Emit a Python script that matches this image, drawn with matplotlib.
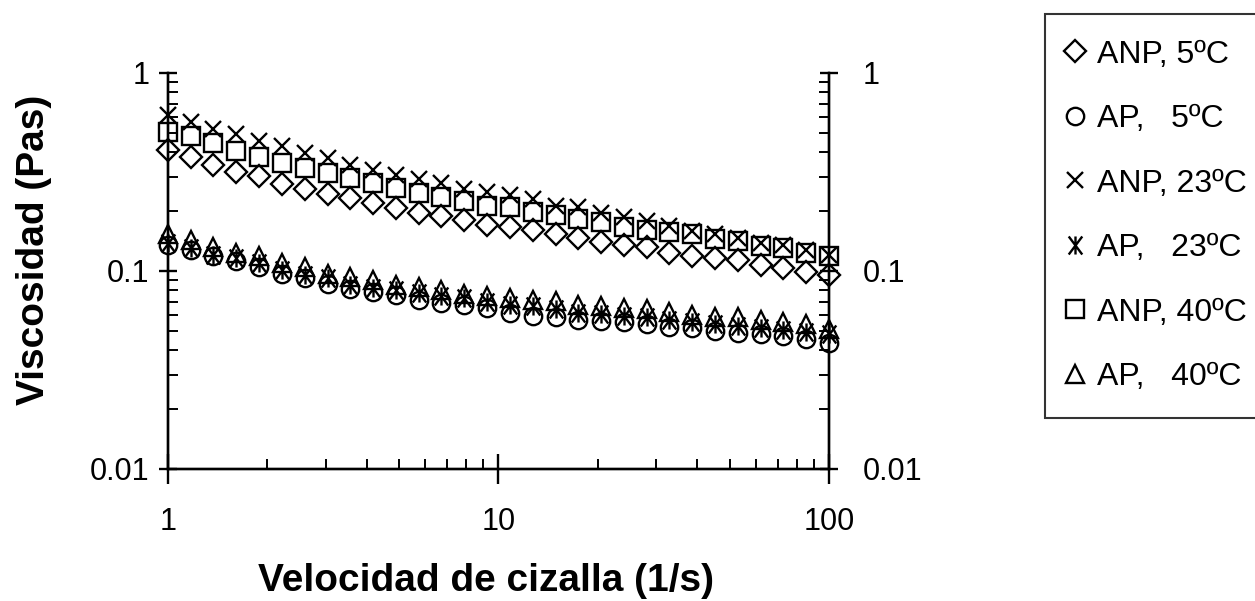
import numpy as np
import matplotlib
matplotlib.use('Agg')
import matplotlib.pyplot as plt
from matplotlib.path import Path
from matplotlib.ticker import FixedLocator, FixedFormatter, LogLocator, NullFormatter

plt.rcParams['font.family'] = ['Liberation Sans', 'DejaVu Sans']

# shear rate (1/s)
shear = [1.0, 1.17, 1.37, 1.61, 1.89, 2.21, 2.59, 3.04, 3.56, 4.18,
         4.89, 5.74, 6.72, 7.88, 9.24, 10.8, 12.7, 14.9, 17.4, 20.4,
         24.0, 28.1, 32.9, 38.6, 45.2, 53.0, 62.1, 72.8, 85.3, 100.0]

# viscosity (Pa s)
anp_5 = [0.409, 0.378, 0.345, 0.317, 0.302, 0.276, 0.260, 0.245, 0.233, 0.221,
         0.207, 0.196, 0.190, 0.180, 0.170, 0.166, 0.161, 0.153, 0.147, 0.140,
         0.136, 0.132, 0.124, 0.119, 0.116, 0.113, 0.107, 0.104, 0.099, 0.095]
ap_5 = [0.136, 0.128, 0.119, 0.112, 0.105, 0.097, 0.092, 0.086, 0.0815, 0.0784,
        0.0753, 0.0716, 0.0689, 0.0670, 0.0652, 0.0612, 0.0595, 0.0584, 0.0566, 0.0561,
        0.0550, 0.0539, 0.0522, 0.0514, 0.0498, 0.0489, 0.0479, 0.0470, 0.0452, 0.0435]
anp_23 = [0.614, 0.567, 0.519, 0.492, 0.452, 0.426, 0.394, 0.373, 0.343, 0.323,
          0.307, 0.291, 0.279, 0.260, 0.250, 0.241, 0.230, 0.214, 0.210, 0.196,
          0.188, 0.179, 0.169, 0.159, 0.153, 0.147, 0.139, 0.136, 0.128, 0.121]
ap_23 = [0.139, 0.131, 0.121, 0.116, 0.110, 0.101, 0.0954, 0.0918, 0.0848, 0.0825,
         0.0799, 0.0775, 0.0744, 0.0733, 0.0695, 0.0670, 0.0662, 0.0644, 0.0612, 0.0607,
         0.0595, 0.0584, 0.0566, 0.0550, 0.0539, 0.0528, 0.0514, 0.0502, 0.0494, 0.0479]
anp_40 = [0.504, 0.479, 0.443, 0.402, 0.378, 0.350, 0.330, 0.311, 0.295, 0.279,
          0.262, 0.248, 0.236, 0.227, 0.214, 0.210, 0.199, 0.191, 0.183, 0.176,
          0.167, 0.162, 0.157, 0.153, 0.145, 0.141, 0.133, 0.131, 0.123, 0.119]
ap_40 = [0.153, 0.144, 0.132, 0.124, 0.119, 0.110, 0.105, 0.097, 0.0936, 0.0899,
         0.0848, 0.0832, 0.0799, 0.0769, 0.0746, 0.0733, 0.0714, 0.0704, 0.0675, 0.0662,
         0.0652, 0.0644, 0.0619, 0.0602, 0.0588, 0.0584, 0.0566, 0.0550, 0.0539, 0.0508]

labels = ['ANP, 5ºC', 'AP,   5ºC', 'ANP, 23ºC', 'AP,   23ºC', 'ANP, 40ºC', 'AP,   40ºC']

# excel style star: a narrow x with a vertical bar
star = Path([(-0.75, -1), (0.75, 1), (-0.75, 1), (0.75, -1), (0, -1), (0, 1)],
            [Path.MOVETO, Path.LINETO, Path.MOVETO, Path.LINETO, Path.MOVETO, Path.LINETO])

series = [
    (anp_5, 'D', 11.5),
    (ap_5, 'o', 12.5),
    (anp_23, 'x', 12),
    (ap_23, star, 13),
    (anp_40, 's', 12.5),
    (ap_40, '^', 12.5),
]

fig = plt.figure(figsize=(12.55, 6.01), dpi=100)
ax = fig.add_axes([168 / 1255, 1 - 469 / 601, (829 - 168) / 1255, (469 - 73) / 601])

handles = []
for (vals, mk, ms), lab in zip(series, labels):
    h, = ax.plot(shear, vals, linestyle='none', marker=mk, markersize=ms,
                 markerfacecolor='none', markeredgecolor='black',
                 markeredgewidth=1.7, label=lab, clip_on=False)
    handles.append(h)

# right-hand copy of the y axis
ax2 = ax.twinx()

for a in (ax, ax2):
    a.set_xscale('log')
    a.set_yscale('log')
    a.set_xlim(1, 100)
    a.set_ylim(0.01, 1)
    a.yaxis.set_major_locator(FixedLocator([0.01, 0.1, 1]))
    a.yaxis.set_major_formatter(FixedFormatter(['0.01', '0.1', '1']))
    a.yaxis.set_minor_locator(LogLocator(base=10, subs=np.arange(2, 10)))
    a.yaxis.set_minor_formatter(NullFormatter())
    a.spines['top'].set_visible(False)
    for s in ('left', 'right', 'bottom'):
        a.spines[s].set_linewidth(1.7)
    a.tick_params(axis='y', which='major', direction='inout', length=13, width=1.7,
                  labelsize=22)
    a.tick_params(axis='y', which='minor', direction='in', length=7, width=1.4)

ax.xaxis.set_major_locator(FixedLocator([1, 10, 100]))
ax.xaxis.set_major_formatter(FixedFormatter(['1', '10', '100']))
ax.xaxis.set_minor_locator(LogLocator(base=10, subs=np.arange(2, 10)))
ax.xaxis.set_minor_formatter(NullFormatter())
ax.tick_params(axis='x', which='major', direction='inout', length=22, width=1.7,
               labelsize=22, pad=16)
ax.tick_params(axis='x', which='minor', direction='in', length=7, width=1.4)
ax.tick_params(axis='y', pad=7)
ax2.tick_params(axis='y', pad=18)

ax.set_xlabel('Velocidad de cizalla (1/s)', fontsize=28, fontweight='bold')
ax.set_ylabel('Viscosidad (Pas)', fontsize=28, fontweight='bold')
ax.xaxis.set_label_coords(0.481, -0.238)
ax.yaxis.set_label_coords(-0.176, 0.553)

leg = fig.legend(handles=handles, labels=labels, loc='upper left',
                 bbox_to_anchor=(1045 / 1255, 1 - 14 / 601), fontsize=23,
                 frameon=True, fancybox=False, edgecolor='black',
                 labelspacing=1.08, handlelength=0.28, handletextpad=0.54,
                 borderpad=0.8, borderaxespad=0)
leg.get_frame().set_linewidth(1.5)

fig.savefig('out.png', dpi=100)
